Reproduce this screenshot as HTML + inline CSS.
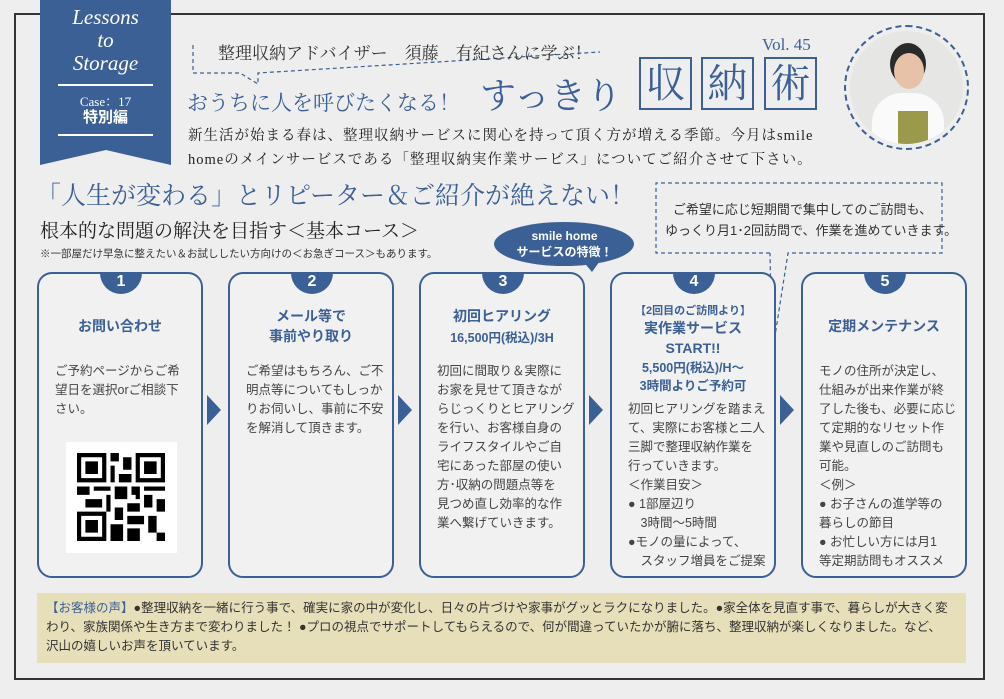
<!DOCTYPE html>
<html><head><meta charset="utf-8"><style>
*{margin:0;padding:0;box-sizing:border-box}
body{width:1004px;height:699px;background:#eeeeee;position:relative;overflow:hidden;font-family:"Liberation Sans","Noto Sans CJK JP",sans-serif;color:#333}
.a{position:absolute;white-space:nowrap}
.serif{font-family:"Liberation Serif","Noto Serif CJK SC",serif}
.blue{color:#3a6096}
.card{position:absolute;top:272px;width:166px;height:306px;border:2px solid #3a6096;border-radius:15px;background:#f1f1f1}
.tab{position:absolute;top:-2px;left:61px;width:42px;height:22px;background:#3a6096;border-radius:0 0 21px 21px;color:#fff;font-weight:bold;font-size:16px;text-align:center;line-height:20px}
.t{position:absolute;left:0;width:162px;text-align:center;color:#3a6096;font-weight:bold;font-size:14px}
.b{position:absolute;left:16px;font-size:12.5px;line-height:19px;color:#444;white-space:nowrap}
.arr{position:absolute;top:395px;width:0;height:0;border-top:15px solid transparent;border-bottom:15px solid transparent;border-left:14px solid #3a6096}
.k{position:absolute;top:57px;width:53px;height:53px;border:2px solid #3a6096;color:#3a6096;font-size:40px;text-align:center;line-height:49px;font-family:"Liberation Serif","Noto Serif CJK SC",serif}
</style></head><body>
<div class="a" style="left:14px;top:13px;width:971px;height:667px;border:2px solid #333"></div>
<svg class="a" style="left:40px;top:0" width="132" height="168"><polygon points="0,0 131,0 131,165 66,150 0,165" fill="#3a6096"/>
<line x1="18" y1="85" x2="113" y2="85" stroke="#fff" stroke-width="2"/><line x1="18" y1="135" x2="113" y2="135" stroke="#fff" stroke-width="2"/></svg>
<div class="a serif" style="left:40px;top:6px;width:131px;text-align:center;color:#fff;font-style:italic;font-size:21px;line-height:23px">Lessons<br>to<br>Storage</div>
<div class="a serif" style="left:40px;top:91px;width:131px;text-align:center;color:#fff;font-size:13px">Case：17</div>
<div class="a" style="left:40px;top:106px;width:131px;text-align:center;color:#fff;font-size:15px;font-weight:bold">特別編</div>
<svg class="a" style="left:190px;top:40px" width="420" height="50"><polyline points="3,5 3,33 50,33 68,44 68,33 410,12" fill="none" stroke="#3a6096" stroke-width="1.2" stroke-dasharray="4,3"/></svg>
<div class="a serif" style="left:218px;top:39px;font-size:17px;color:#333">整理収納アドバイザー　須藤　有紀さんに学ぶ！</div>
<div class="a serif blue" style="left:187px;top:87px;font-size:21px">おうちに人を呼びたくなる！</div>
<div class="a serif blue" style="left:480px;top:68px;font-size:36px">すっきり</div>
<div class="k" style="left:639px">収</div><div class="k" style="left:701px">納</div><div class="k" style="left:764px">術</div>
<div class="a serif blue" style="left:762px;top:35px;font-size:17px">Vol. 45</div>
<div class="a serif" style="left:188px;top:124px;font-size:14.5px;letter-spacing:1px;line-height:24px;color:#222">新生活が始まる春は、整理収納サービスに関心を持って頂く方が増える季節。今月はsmile<br>homeのメインサービスである「整理収納実作業サービス」についてご紹介させて下さい。</div>
<div class="a" style="left:844px;top:25px;width:125px;height:125px;border-radius:50%;border:2px dashed #3a6096"></div>
<div class="a" style="left:850px;top:31px;width:113px;height:113px;border-radius:50%;background:#e6e6e4;overflow:hidden">
<div style="position:absolute;left:40px;top:12px;width:36px;height:42px;border-radius:50%;background:#2a2a2a"></div>
<div style="position:absolute;left:44px;top:22px;width:30px;height:36px;border-radius:50%;background:#e8c2a8"></div>
<div style="position:absolute;left:22px;top:62px;width:72px;height:60px;border-radius:30px 30px 0 0;background:#fafafa"></div>
<div style="position:absolute;left:48px;top:80px;width:30px;height:40px;background:#9a9a4a"></div>
</div>
<div class="a serif blue" style="left:36px;top:176px;font-size:25px">「人生が変わる」とリピーター＆ご紹介が絶えない！</div>
<div class="a serif" style="left:40px;top:216px;font-size:19px;color:#222">根本的な問題の解決を目指す＜基本コース＞</div>
<div class="a" style="left:40px;top:246px;font-size:10.5px;color:#333">※一部屋だけ早急に整えたい＆お試ししたい方向けの＜お急ぎコース＞もあります。</div>
<svg class="a" style="left:650px;top:178px" width="300" height="180"><polyline points="120,75 6,75 6,5 292,5 292,75 138,75 122,177 120,75" fill="none" stroke="#3a6096" stroke-width="1.2" stroke-dasharray="4,3"/></svg>
<div class="a" style="left:665px;top:199px;width:275px;text-align:center;font-size:13px;line-height:21px;color:#333">ご希望に応じ短期間で集中してのご訪問も、<br>ゆっくり月1･2回訪問で、作業を進めていきます。</div>
<div class="card" style="left:37px"><div class="tab">1</div>
<div class="t" style="top:42px">お問い合わせ</div>
<div class="b" style="top:88px">ご予約ページからご希<br>望日を選択orご相談下<br>さい。</div>
<div style="position:absolute;left:27px;top:168px;width:111px;height:111px;background:#fff"></div>
<svg style="position:absolute;left:38px;top:179px" width="88" height="88" viewBox="0 0 21 21">
<g fill="#000"><path d="M0 0h7v7H0zM14 0h7v7h-7zM0 14h7v7H0z"/></g>
<g fill="#fff"><path d="M1 1h5v5H1zM15 1h5v5h-5zM1 15h5v5H1z"/></g>
<g fill="#000"><path d="M2 2h3v3H2zM16 2h3v3h-3zM2 16h3v3H2zM8 0h2v2H8zM11 1h2v3h-2zM8 3h1v4H8zM10 5h3v2h-3zM0 8h3v2H0zM4 8h4v1H4zM9 8h3v3H9zM13 8h2v2h-2zM16 8h5v1h-5zM2 11h4v2H2zM7 10h1v4H7zM12 12h3v2h-3zM16 10h2v3h-2zM19 11h2v3h-2zM9 13h2v3H9zM8 17h3v4H8zM12 15h4v2h-4zM17 15h2v4h-2zM12 18h3v3h-3zM19 19h2v2h-2zM14 10h1v1h-1z"/></g></svg>
</div>
<div class="arr" style="left:207px"></div>
<div class="card" style="left:228px"><div class="tab">2</div>
<div class="t" style="top:32px;line-height:20px">メール等で<br>事前やり取り</div>
<div class="b" style="top:88px">ご希望はもちろん、ご不<br>明点等についてもしっか<br>りお伺いし、事前に不安<br>を解消して頂きます。</div></div>
<div class="arr" style="left:398px"></div>
<div class="card" style="left:419px"><div class="tab">3</div>
<div class="t" style="top:32px">初回ヒアリング</div>
<div class="t" style="top:53px;font-size:12.5px">16,500円(税込)/3H</div>
<div class="b" style="top:88px">初回に間取り＆実際に<br>お家を見せて頂きなが<br>らじっくりとヒアリング<br>を行い、お客様自身の<br>ライフスタイルやご自<br>宅にあった部屋の使い<br>方･収納の問題点等を<br>見つめ直し効率的な作<br>業へ繋げていきます。</div></div>
<div class="arr" style="left:589px"></div>
<div class="card" style="left:610px"><div class="tab">4</div>
<div class="t" style="top:28px;font-size:11px">【2回目のご訪問より】</div>
<div class="t" style="top:44px;line-height:20px">実作業サービス<br>START!!</div>
<div class="t" style="top:85px;font-size:12.5px;line-height:18px">5,500円(税込)/H～<br>3時間よりご予約可</div>
<div class="b" style="top:126px">初回ヒアリングを踏まえ<br>て、実際にお客様と二人<br>三脚で整理収納作業を<br>行っていきます。<br>＜作業目安＞<br>● 1部屋辺り<br>　3時間～5時間<br>●モノの量によって、<br>　スタッフ増員をご提案</div></div>
<div class="arr" style="left:780px"></div>
<div class="card" style="left:801px"><div class="tab">5</div>
<div class="t" style="top:42px">定期メンテナンス</div>
<div class="b" style="top:88px">モノの住所が決定し、<br>仕組みが出来作業が終<br>了した後も、必要に応じ<br>て定期的なリセット作<br>業や見直しのご訪問も<br>可能。<br>＜例＞<br>● お子さんの進学等の<br>暮らしの節目<br>● お忙しい方には月1<br>等定期訪問もオススメ</div></div>
<svg class="a" style="left:492px;top:220px" width="145" height="52"><ellipse cx="72" cy="24" rx="70" ry="22" fill="#3a6096"/><polygon points="90,40 110,38 100,52" fill="#3a6096"/></svg>
<div class="a" style="left:492px;top:228px;width:145px;text-align:center;color:#fff;font-weight:bold;font-size:12px;line-height:16px">smile home<br>サービスの特徴！</div>
<div class="a" style="left:37px;top:593px;width:929px;height:70px;background:#e7dfba"></div>
<div class="a" style="left:46px;top:599px;width:902px;font-size:12.5px;line-height:19px;color:#333;white-space:normal"><span class="blue">【お客様の声】</span>●整理収納を一緒に行う事で、確実に家の中が変化し、日々の片づけや家事がグッとラクになりました。●家全体を見直す事で、暮らしが大きく変わり、家族関係や生き方まで変わりました！ ●プロの視点でサポートしてもらえるので、何が間違っていたかが腑に落ち、整理収納が楽しくなりました。など、沢山の嬉しいお声を頂いています。</div>
</body></html>
